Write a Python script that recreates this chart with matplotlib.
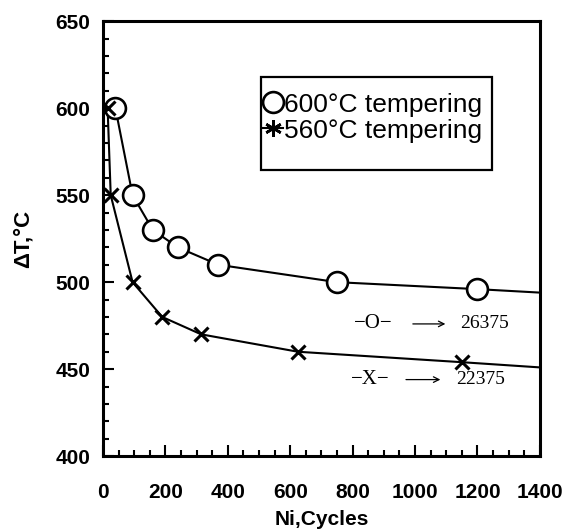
import matplotlib
matplotlib.use('Agg')
import matplotlib.pyplot as plt
from matplotlib.lines import Line2D
from matplotlib.patches import Rectangle
from matplotlib.ticker import MultipleLocator

plt.rcParams['font.family'] = 'Liberation Sans'

# 600 C tempering (circles)
cyc_600 = [40, 95, 160, 240, 370, 750, 1200]
dT_600 = [600, 550, 530, 520, 510, 500, 496]
# curve drawn through the points, continuing to the right edge
curve_x_600 = [40, 95, 160, 240, 370, 750, 1200, 1400]
curve_y_600 = [600, 550, 530, 520, 510, 500, 496, 494]

# 560 C tempering (crosses)
cyc_560 = [15, 25, 95, 190, 315, 625, 1150]
dT_560 = [600, 550, 500, 480, 470, 460, 454]
curve_x_560 = [15, 25, 95, 190, 315, 625, 1150, 1400]
curve_y_560 = [600, 550, 500, 480, 470, 460, 454, 451]

life_labels = ['26375', '22375']

fig = plt.figure(figsize=(5.75, 5.31), dpi=100)
ax = fig.add_axes([0.179, 0.141, 0.760, 0.819])

ax.plot(curve_x_600, curve_y_600, color='black', lw=1.5, zorder=2)
ax.plot(cyc_600, dT_600, linestyle='none', marker='o', ms=15, mfc='white',
        mec='black', mew=1.9, zorder=3)

ax.plot(curve_x_560, curve_y_560, color='black', lw=1.5, zorder=2)
ax.plot(cyc_560, dT_560, linestyle='none', marker='x', ms=10, mec='black',
        mew=2.2, zorder=3)

ax.set_xlim(0, 1400)
ax.set_ylim(400, 650)
ax.xaxis.set_major_locator(MultipleLocator(200))
ax.xaxis.set_minor_locator(MultipleLocator(50))
ax.yaxis.set_major_locator(MultipleLocator(50))
ax.yaxis.set_minor_locator(MultipleLocator(10))
ax.tick_params(which='both', direction='in', width=1.5, labelsize=15)
ax.tick_params(which='major', length=8)
ax.tick_params(which='minor', length=4)
ax.tick_params(axis='x', pad=19)
ax.tick_params(axis='y', pad=9)
for lab in ax.get_xticklabels() + ax.get_yticklabels():
    lab.set_fontweight('bold')
for sp in ax.spines.values():
    sp.set_linewidth(2.2)

ax.set_xlabel('Ni,Cycles', fontsize=15, fontweight='bold', labelpad=6)
ax.set_ylabel('ΔT,°C', fontsize=16, fontweight='bold', labelpad=16)

# legend: entries plus a hand-drawn frame
h1 = Line2D([], [], linestyle='none', marker='o', ms=15, mfc='white',
            mec='black', mew=1.9)
h2 = Line2D([], [], color='black', lw=1.5, marker=(6, 2, 0), ms=12, mew=1.9)
leg = ax.legend([h1, h2], ['600°C tempering', '560°C tempering'],
                loc='upper left', bbox_to_anchor=(0.364, 0.836), fontsize=19,
                frameon=False, handlelength=0.8, handletextpad=0.05,
                borderpad=0, labelspacing=0.08, borderaxespad=0)
ax.add_patch(Rectangle((0.3616, 0.657), 0.528, 0.214, transform=ax.transAxes,
                       fill=False, edgecolor='black', lw=1.6, zorder=5))

# life annotations
serif = 'Liberation Serif'
ax.text(865, 476, '−O−', fontsize=15, family=serif, ha='center', va='center')
ax.annotate('', xy=(1106, 476), xytext=(984, 476),
            arrowprops=dict(arrowstyle='->', lw=0.9, color='black'))
ax.text(1144, 476, life_labels[0], fontsize=14, family=serif, va='center', ha='left')

ax.text(856, 444, '−X−', fontsize=15, family=serif, ha='center', va='center')
ax.annotate('', xy=(1090, 444), xytext=(962, 444),
            arrowprops=dict(arrowstyle='->', lw=0.9, color='black'))
ax.text(1131, 444, life_labels[1], fontsize=14, family=serif, va='center', ha='left')

fig.savefig('out.png', dpi=100, facecolor='white')
